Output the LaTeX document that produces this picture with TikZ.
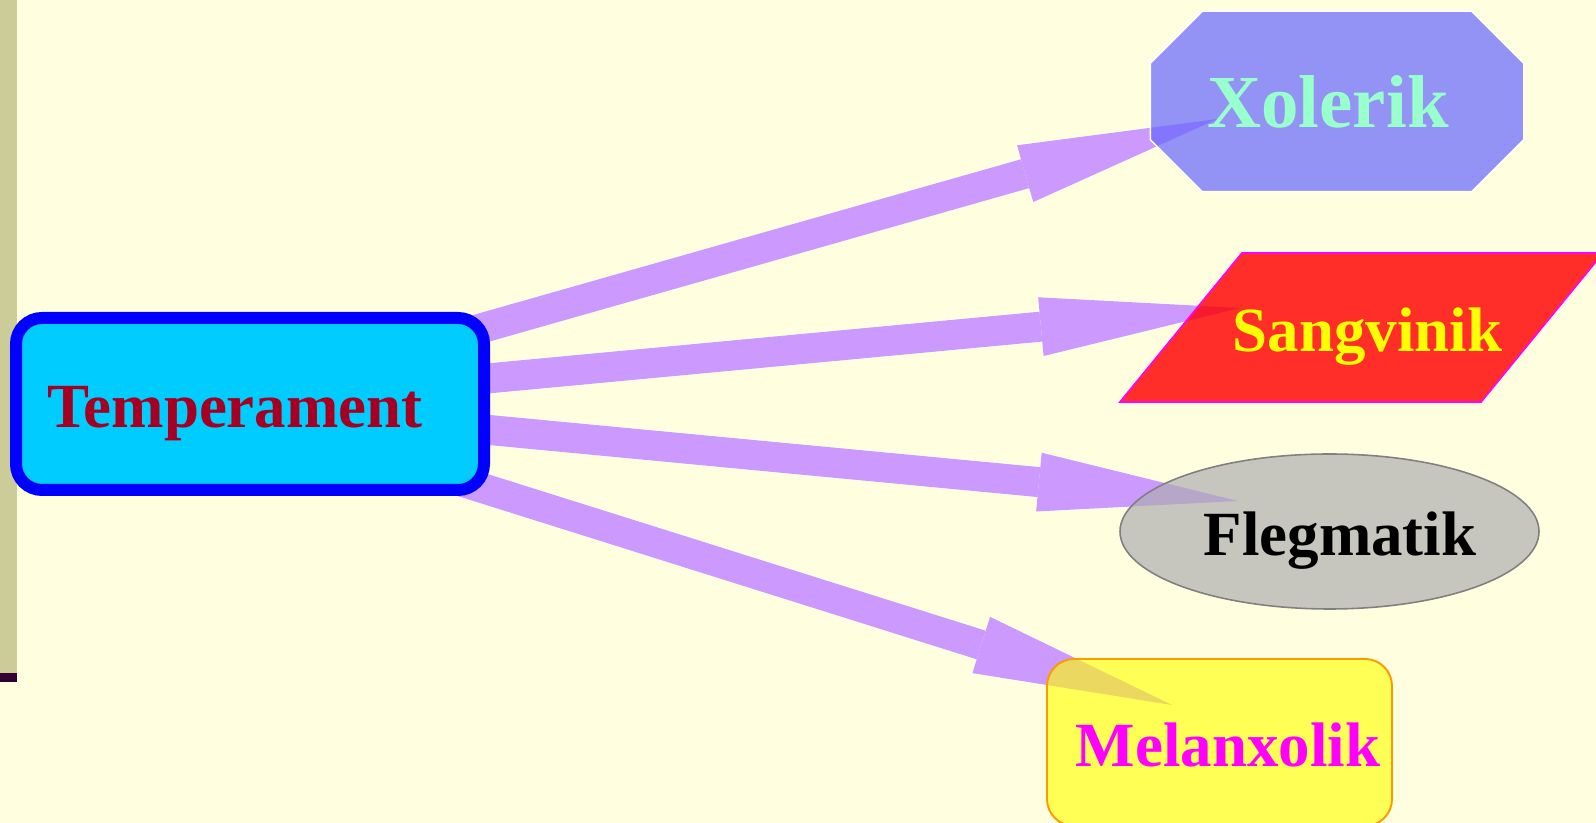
\documentclass[tikz,border=0pt]{standalone}
\usepackage{fontspec}
\setmainfont{Liberation Serif}
\usetikzlibrary{shapes.geometric,arrows.meta}
\definecolor{fondjaune}{RGB}{255,255,224}
\definecolor{kaki}{RGB}{204,204,153}
\definecolor{prune}{RGB}{51,0,51}
\definecolor{cyanclair}{RGB}{0,204,255}
\definecolor{rougefonce}{RGB}{165,0,33}
\definecolor{lavande}{RGB}{204,153,255}
\definecolor{bleuxol}{RGB}{102,102,255}
\definecolor{menthe}{RGB}{153,255,204}
\definecolor{rougesang}{RGB}{255,0,0}
\definecolor{magentavif}{RGB}{255,0,255}
\definecolor{jaunevif}{RGB}{255,255,0}
\definecolor{grisfleg}{RGB}{174,174,178}
\definecolor{orangemel}{RGB}{255,153,0}
\pgfdeclarelayer{fond}
\pgfdeclarelayer{fleches}
\pgfdeclarelayer{formes}
\pgfsetlayers{fond,fleches,formes,main}
\tikzstyle{temperament}=[
  draw=blue,
  line width=1.2mm,
  rounded corners=2.6mm,
  fill=cyanclair,
  minimum width=46.8mm,
  minimum height=17.2mm,
  inner sep=0pt,
  text=rougefonce,
  font=\bfseries\fontsize{17.9}{20}\selectfont,
  text height=6.2mm,
  text depth=1.4mm
]
\tikzstyle{xolerik}=[
  minimum width=37.2mm,
  minimum height=17.9mm,
  inner sep=0pt,
  text=menthe,
  font=\bfseries\fontsize{21.3}{24}\selectfont,
  text height=6.8mm,
  text depth=1.5mm
]
\tikzstyle{octogone}=[
  draw=white,
  line width=.4pt,
  fill=bleuxol,
  fill opacity=.7
]
\tikzstyle{sangvinik}=[
  trapezium,
  trapezium left angle=50.7,
  trapezium right angle=129.3,
  trapezium stretches body=true,
  draw=magentavif,
  line width=.45pt,
  fill=rougesang,
  fill opacity=.82,
  text opacity=1,
  inner ysep=0pt,
  inner xsep=-2.1mm,
  text=jaunevif,
  font=\bfseries\fontsize{17.9}{20}\selectfont,
  text height=9.9mm,
  text depth=5mm
]
\tikzstyle{flegmatik}=[
  ellipse,
  draw=gray,
  line width=.45pt,
  fill=grisfleg,
  fill opacity=.7,
  text opacity=1,
  minimum width=41.9mm,
  minimum height=15.5mm,
  inner sep=0pt,
  text=black,
  font=\bfseries\fontsize{17.9}{20}\selectfont,
  text height=6.2mm,
  text depth=1.3mm
]
\tikzstyle{melanxolik}=[
  draw=orangemel,
  line width=.55pt,
  rounded corners=2.7mm,
  fill=jaunevif,
  fill opacity=.62,
  text opacity=1,
  minimum width=34.5mm,
  minimum height=16.7mm,
  inner sep=0pt,
  text=magentavif,
  font=\bfseries\fontsize{17.9}{20}\selectfont,
  text height=6.2mm,
  text depth=1.3mm
]
\tikzstyle{fleche}=[
  draw=lavande,
  fill=lavande,
  line width=3mm,
  -{Triangle[length=20mm 0 0,width=5.9mm 0 0,line width=0pt 0 0]}
]
\begin{document}
\begin{tikzpicture}
  \useasboundingbox (0,0) rectangle (15.96,8.23);
  \begin{pgfonlayer}{fond}
    \fill[fondjaune] (0,0) rectangle (15.96,8.23);
    \fill[kaki] (0,1.50) rectangle (0.167,8.23);
    \fill[prune] (0,1.41) rectangle (0.167,1.50);
  \end{pgfonlayer}
  \node[temperament] (temp) at (2.50,4.19) {Temperament\hspace*{3mm}};
  \node[xolerik] (xol) at (13.37,7.215) {Xolerik\hspace*{1.8mm}};
  \node[sangvinik] (sang) at (13.615,4.955) {\hspace*{1.2mm}Sangvinik};
  \node[flegmatik] (fleg) at (13.295,2.915) {\hspace*{2.1mm}Flegmatik};
  \node[melanxolik] (mel) at (12.195,0.805) {\hspace*{1.7mm}Melanxolik};
  \coordinate (hub) at ([xshift=-3.5mm]temp.center);
  % octogone sous le texte de Xolerik
  \begin{pgfonlayer}{formes}
    \path[octogone] ([xshift=5.2mm]xol.north west) -- ([xshift=-5.2mm]xol.north east)
      -- ([yshift=-5.2mm]xol.north east) -- ([yshift=5.2mm]xol.south east)
      -- ([xshift=-5.2mm]xol.south east) -- ([xshift=5.2mm]xol.south west)
      -- ([yshift=5.2mm]xol.south west) -- ([yshift=-5.2mm]xol.north west) -- cycle;
  \end{pgfonlayer}
  \begin{pgfonlayer}{fleches}
    \draw[fleche] (hub) -- ([xshift=-11.95mm,yshift=-1.75mm]xol.center);
    \draw[fleche] (hub) -- ([xshift=-12.15mm,yshift=1.95mm]sang.center);
    \draw[fleche] (hub) -- ([xshift=-9.15mm,yshift=3.05mm]fleg.center);
    \draw[fleche] (hub) -- ([xshift=-4.75mm,yshift=3.75mm]mel.center);
  \end{pgfonlayer}
\end{tikzpicture}
\end{document}
